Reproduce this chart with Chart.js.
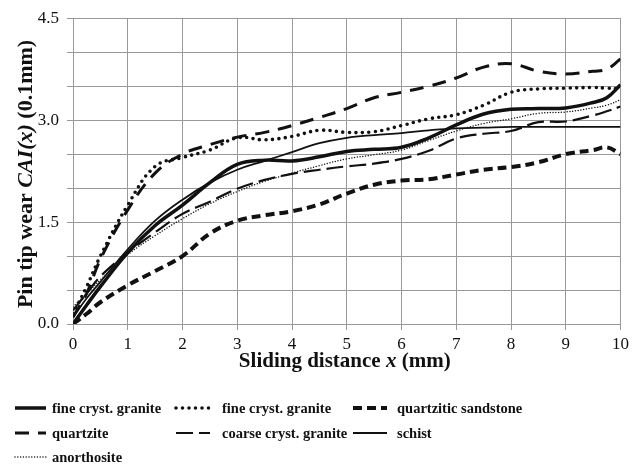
<!DOCTYPE html>
<html>
<head>
<meta charset="utf-8">
<script src="https://cdn.jsdelivr.net/npm/chart.js@4.4.0/dist/chart.umd.min.js"></script>
<style>
  html, body { margin: 0; padding: 0; background: #fff; }
  #grafico { display: block; }
</style>
</head>
<body>
<canvas id="grafico" width="633" height="467"></canvas>
<script>
// sliding distance x (mm)
const distancia = [0, 0.25, 0.5, 1, 1.5, 2, 2.5, 3, 3.5, 4, 4.5, 5, 5.5, 6, 6.5, 7, 7.5, 8, 8.5, 9, 9.5, 9.75, 10];

// pin tip wear CAI(x) (0.1 mm) per rock type
const fineGraniteA   = [0, 0.28, 0.55, 1.05, 1.45, 1.75, 2.08, 2.35, 2.41, 2.40, 2.46, 2.54, 2.57, 2.60, 2.74, 2.93, 3.09, 3.16, 3.17, 3.18, 3.26, 3.33, 3.52];
const fineGraniteB   = [0.15, 0.55, 1.0, 1.75, 2.32, 2.45, 2.56, 2.74, 2.71, 2.76, 2.85, 2.82, 2.83, 2.92, 3.02, 3.08, 3.22, 3.41, 3.46, 3.47, 3.48, 3.47, 3.46];
const sandstone      = [0, 0.15, 0.32, 0.57, 0.78, 1.0, 1.33, 1.52, 1.6, 1.66, 1.76, 1.92, 2.05, 2.11, 2.13, 2.2, 2.27, 2.31, 2.38, 2.5, 2.56, 2.6, 2.5];
const quartzite      = [0.1, 0.45, 0.95, 1.68, 2.22, 2.5, 2.64, 2.75, 2.82, 2.92, 3.04, 3.17, 3.33, 3.41, 3.5, 3.62, 3.78, 3.83, 3.72, 3.68, 3.72, 3.75, 3.9];
const coarseGranite  = [0.2, 0.45, 0.7, 1.05, 1.35, 1.62, 1.8, 1.99, 2.12, 2.21, 2.27, 2.32, 2.36, 2.43, 2.55, 2.73, 2.8, 2.84, 2.97, 2.98, 3.07, 3.13, 3.2];
const schist         = [0.1, 0.38, 0.62, 1.1, 1.52, 1.83, 2.08, 2.27, 2.4, 2.53, 2.66, 2.74, 2.78, 2.81, 2.85, 2.88, 2.89, 2.9, 2.9, 2.9, 2.9, 2.9, 2.9];
const anorthosite    = [0.25, 0.45, 0.65, 1.02, 1.3, 1.55, 1.77, 1.95, 2.1, 2.22, 2.33, 2.43, 2.49, 2.56, 2.7, 2.84, 2.95, 3.02, 3.1, 3.12, 3.18, 3.22, 3.3];

const etiquetas = ['fine cryst. granite', 'fine cryst. granite', 'quartzitic sandstone',
                   'quartzite', 'coarse cryst. granite', 'schist', 'anorthosite'];
const series = [fineGraniteA, fineGraniteB, sandstone, quartzite, coarseGranite, schist, anorthosite];

const tituloX = [['Sliding distance ', false], ['x', true], [' (mm)', false]];
const tituloY = [['Pin tip wear ', false], ['CAI(x)', true], [' (0.1mm)', false]];

const SERIF = '"Liberation Serif", "Times New Roman", serif';
const INK = '#111';
const GRID = '#999';

// line look per series: width, dash, cap
const estilos = [
    { borderWidth: 3.5, borderDash: [], borderCapStyle: 'butt' },
    { borderWidth: 3.6, borderDash: [0, 6.5], borderCapStyle: 'round' },
    { borderWidth: 4, borderDash: [9, 5], borderCapStyle: 'butt' },
    { borderWidth: 3, borderDash: [14, 9], borderCapStyle: 'butt' },
    { borderWidth: 2.2, borderDash: [17, 6], borderCapStyle: 'butt' },
    { borderWidth: 1.8, borderDash: [], borderCapStyle: 'butt' },
    { borderWidth: 1.5, borderDash: [0, 2.8], borderCapStyle: 'round' },
];

const datasets = series.map((valores, i) => ({
    label: etiquetas[i],
    data: distancia.map((x, j) => ({ x: x, y: valores[j] })),
    borderColor: INK,
    backgroundColor: INK,
    fill: false,
    pointRadius: 0,
    tension: 0.4,
    borderJoinStyle: 'round',
    ...estilos[i],
}));

// draws a title made of bold / bold-italic pieces, centred on (0,0)
function textoMixto(ctx, partes, size) {
    const fuentes = partes.map(([, it]) => (it ? 'italic ' : '') + 'bold ' + size + 'px ' + SERIF);
    let total = 0;
    const anchos = partes.map(([t], i) => {
        ctx.font = fuentes[i];
        const w = ctx.measureText(t).width;
        total += w;
        return w;
    });
    let x = -total / 2;
    partes.forEach(([t], i) => {
        ctx.font = fuentes[i];
        ctx.fillText(t, x, 0);
        x += anchos[i];
    });
}

const titulosYLeyenda = {
    id: 'titulosYLeyenda',
    afterDraw(chart) {
        const ctx = chart.ctx;
        const area = chart.chartArea;
        ctx.save();
        ctx.fillStyle = INK;
        ctx.textBaseline = 'alphabetic';
        ctx.textAlign = 'left';

        // x axis title
        ctx.save();
        ctx.translate((area.left + area.right) / 2 - 2, 367);
        textoMixto(ctx, tituloX, 21);
        ctx.restore();

        // y axis title, rotated
        ctx.save();
        ctx.translate(32, 174);
        ctx.rotate(-Math.PI / 2);
        textoMixto(ctx, tituloY, 22);
        ctx.restore();

        // legend in three columns
        const columnas = [{ x0: 15, x1: 46, tx: 52 }, { x0: 176, x1: 210, tx: 222 }, { x0: 353, x1: 387, tx: 397 }];
        const filas = [408, 433, 457];
        chart.data.datasets.forEach((ds, i) => {
            const c = columnas[i % 3];
            const y = filas[Math.floor(i / 3)];
            ctx.save();
            ctx.strokeStyle = ds.borderColor;
            ctx.lineWidth = ds.borderWidth;
            ctx.lineCap = ds.borderCapStyle;
            ctx.setLineDash(ds.borderDash);
            ctx.beginPath();
            ctx.moveTo(c.x0, y);
            ctx.lineTo(c.x1, y);
            ctx.stroke();
            ctx.restore();
            ctx.font = 'bold 14.5px ' + SERIF;
            ctx.fillText(ds.label, c.tx, y + 4.5);
        });
        ctx.restore();
    }
};

new Chart(document.getElementById('grafico'), {
    type: 'line',
    data: { datasets: datasets },
    options: {
        responsive: false,
        animation: false,
        layout: { padding: { top: 18, right: 10, bottom: 103, left: 0 } },
        plugins: {
            legend: { display: false },
            tooltip: { enabled: false },
        },
        scales: {
            x: {
                type: 'linear',
                min: 0,
                max: 10,
                afterFit: (s) => { s.height = 40; },
                border: { color: GRID, width: 1 },
                grid: { color: GRID, lineWidth: 1, tickLength: 6, tickColor: GRID },
                ticks: {
                    stepSize: 1,
                    autoSkip: false,
                    maxRotation: 0,
                    padding: 4,
                    color: INK,
                    font: { family: SERIF, size: 17 },
                },
            },
            y: {
                min: 0,
                max: 4.5,
                afterFit: (s) => { s.width = 73; },
                border: { color: GRID, width: 1 },
                grid: { color: GRID, lineWidth: 1, tickLength: 6, tickColor: GRID },
                ticks: {
                    stepSize: 0.5,
                    autoSkip: false,
                    padding: 8,
                    color: INK,
                    font: { family: SERIF, size: 17 },
                    callback: (v) => {
                        const k = v / 1.5;
                        return Math.abs(k - Math.round(k)) < 1e-6 ? v.toFixed(1) : '';
                    },
                },
            },
        },
    },
    plugins: [titulosYLeyenda],
});
</script>
</body>
</html>
